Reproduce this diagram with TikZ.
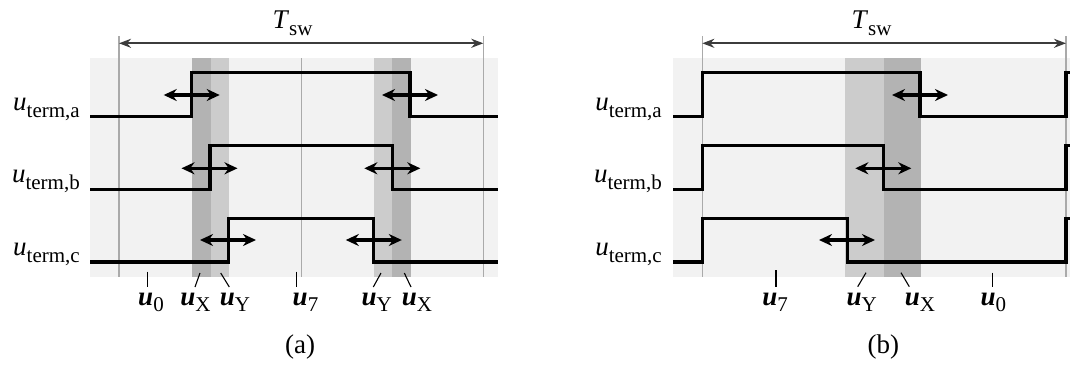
\documentclass[tikz,border=0pt]{standalone}
\usepackage{fontspec}
\setmainfont{Liberation Serif}
\usetikzlibrary{arrows.meta}
\newcommand{\subfont}{\fontsize{21}{22}\selectfont}
\newcommand{\termlbl}[1]{\textit{u}\raisebox{-7pt}{\subfont term,#1}}
\newcommand{\veclbl}[1]{\textbf{\textit{u}}\raisebox{-6.5pt}{\subfont #1}}
\begin{document}
\begin{tikzpicture}[x=1pt,y=-1pt]
\definecolor{bgfill}{RGB}{242,242,242}
\definecolor{banddark}{RGB}{179,179,179}
\definecolor{bandlight}{RGB}{204,204,204}
\definecolor{gridgray}{RGB}{170,170,170}
\definecolor{spangray}{RGB}{60,60,60}
\tikzset{
  gridline/.style={gridgray, line width=1.2pt},
  signal/.style={black, line width=3.2pt},
  edgearrow/.style={black, line width=3.2pt, {Stealth[length=13pt,width=12pt]}-{Stealth[length=13pt,width=12pt]}},
  spanarrow/.style={spangray, line width=2.3pt, {Stealth[length=12pt,width=9pt]}-{Stealth[length=12pt,width=9pt]}},
  ticklbl/.style={black, line width=1.1pt},
  txt/.style={font=\fontsize{27}{30}\selectfont, inner sep=0pt},
}
\useasboundingbox (0,0) rectangle (1070,367);
% (a) background and bands
\fill[bgfill] (90,58.3) rectangle (497.7,276.7);
\fill[banddark] (192.3,58.3) rectangle (211,276.7);
\fill[bandlight] (211,58.3) rectangle (228.7,276.7);
\fill[bandlight] (374.3,58.3) rectangle (392.3,276.7);
\fill[banddark] (392.3,58.3) rectangle (410.7,276.7);
\draw[gridline] (119,36) -- (119,276.7);
\draw[gridline] (301.7,58.3) -- (301.7,276.7);
\draw[gridline] (483.3,36) -- (483.3,276.7);
% (b) background and bands
\fill[bgfill] (673.3,58.3) rectangle (1070,276.7);
\fill[bandlight] (845,58.3) rectangle (884,276.7);
\fill[banddark] (884,58.3) rectangle (920.7,276.7);
\draw[gridline] (702.3,36) -- (702.3,276.7);
\draw[gridline] (1066,36) -- (1066,276.7);
% switching period
\draw[spanarrow] (119,43.3) -- (483.3,43.3);
\draw[spanarrow] (702.3,43.3) -- (1066,43.3);
\node[txt, anchor=base] (tswa) at (292.5,28.3) {\textit{T}\raisebox{-6.7pt}{\subfont sw}};
\node[txt, anchor=base] (tswb) at (871.5,28.3) {\textit{T}\raisebox{-6.7pt}{\subfont sw}};
% (a) terminal voltages
\draw[signal] (90,116.7) -| (191.7,72.3) -| (410,116.7) -- (497.7,116.7);
\draw[signal] (90,189.3) -| (210,145.7) -| (392.3,189.3) -- (497.7,189.3);
\draw[signal] (90,262) -| (228.3,218.3) -| (373.3,262) -- (497.7,262);
\foreach \ex/\ey in {191.7/95, 410/95, 209.5/168.3, 392.3/168.3, 228/240, 373.8/240}
  \draw[edgearrow] (\ex-28,\ey) -- (\ex+28,\ey);
% (b) terminal voltages
\draw[signal] (673.3,116.7) -| (702.3,72.3) -| (920,116.7) -| (1066,72.3) -- (1070,72.3);
\draw[signal] (673.3,189.3) -| (702.3,145.7) -| (883.3,189.3) -| (1066,145.7) -- (1070,145.7);
\draw[signal] (673.3,262) -| (702.3,218.3) -| (847.3,262) -| (1066,218.3) -- (1070,218.3);
\foreach \ex/\ey in {920/95, 883.3/168.3, 847/240}
  \draw[edgearrow] (\ex-28,\ey) -- (\ex+28,\ey);
% row labels
\node[txt, anchor=base east] (ua) at (80,110) {\termlbl{a}};
\node[txt, anchor=base east] (ub) at (80,182.7) {\termlbl{b}};
\node[txt, anchor=base east] (uc) at (80,255.3) {\termlbl{c}};
\node[txt, anchor=base east] (ubA) at (662,110) {\termlbl{a}};
\node[txt, anchor=base east] (ubB) at (662,182.7) {\termlbl{b}};
\node[txt, anchor=base east] (ubC) at (662,255.3) {\termlbl{c}};
% (a) vectors
\draw[ticklbl] (147.7,271.7) -- (147.7,286.7);
\draw[ticklbl] (200,273) -- (195,287);
\draw[ticklbl] (220.7,273) -- (229.3,287);
\draw[ticklbl] (296.7,271.7) -- (296.7,286.7);
\draw[ticklbl] (381,273) -- (373.3,287);
\draw[ticklbl] (404.3,273) -- (411,287);
\node[txt, anchor=base] (va0) at (151,305) {\veclbl{0}};
\node[txt, anchor=base] (vaX) at (195.5,305) {\veclbl{X}};
\node[txt, anchor=base] (vaY) at (235,305) {\veclbl{Y}};
\node[txt, anchor=base] (va7) at (305.5,305) {\veclbl{7}};
\node[txt, anchor=base] (vaY2) at (376.7,305) {\veclbl{Y}};
\node[txt, anchor=base] (vaX2) at (417,305) {\veclbl{X}};
% (b) vectors
\draw[ticklbl] (776,270) -- (776,286.7);
\draw[ticklbl] (866,272.7) -- (857.7,286.7);
\draw[ticklbl] (901,272.7) -- (909.3,286.7);
\draw[ticklbl] (992.7,272.7) -- (992.7,286.7);
\node[txt, anchor=base] (vb7) at (775,305) {\veclbl{7}};
\node[txt, anchor=base] (vbY) at (861.7,305) {\veclbl{Y}};
\node[txt, anchor=base] (vbX) at (920,305) {\veclbl{X}};
\node[txt, anchor=base] (vb0) at (993.3,305) {\veclbl{0}};
% captions
\node[txt, anchor=base] (capa) at (300,353) {(a)};
\node[txt, anchor=base] (capb) at (883.3,353) {(b)};
\end{tikzpicture}
\end{document}
